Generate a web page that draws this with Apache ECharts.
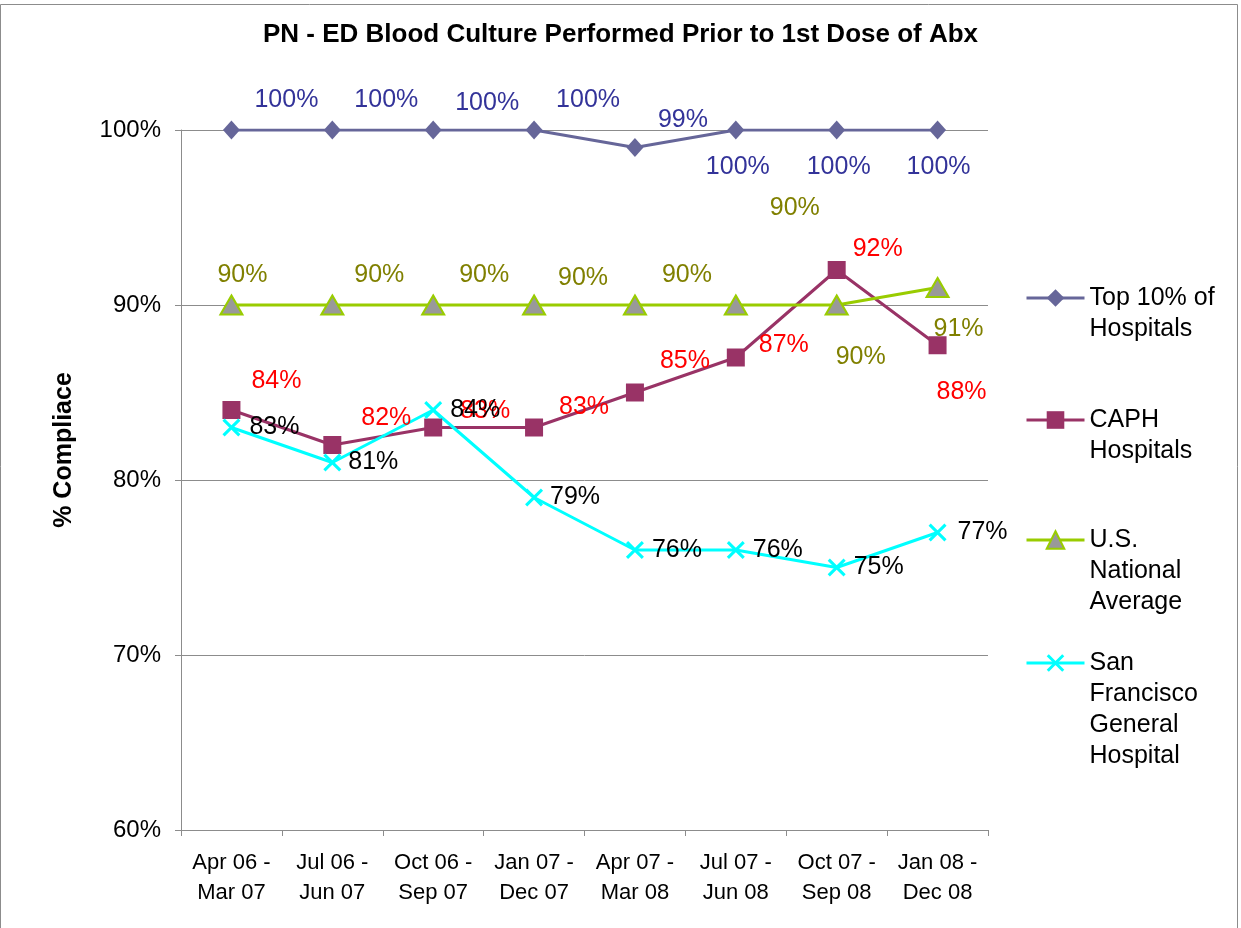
<!DOCTYPE html>
<html>
<head>
<meta charset="utf-8">
<title>PN - ED Blood Culture</title>
<script src="https://cdn.jsdelivr.net/npm/echarts@6/dist/echarts.min.js"></script>
<style>
html,body{margin:0;padding:0;background:#fff;}
#main{width:1241px;height:928px;}
</style>
</head>
<body>
<div id="main"></div>
<script>
// data
var categories = ['Apr 06 -\nMar 07','Jul 06 -\nJun 07','Oct 06 -\nSep 07','Jan 07 -\nDec 07',
                  'Apr 07 -\nMar 08','Jul 07 -\nJun 08','Oct 07 -\nSep 08','Jan 08 -\nDec 08'];
var seriesNames = ['Top 10% of Hospitals','CAPH Hospitals','U.S. National Average','San Francisco General Hospital'];
var legendLines = ['Top 10% of\nHospitals','CAPH\nHospitals','U.S.\nNational\nAverage','San\nFrancisco\nGeneral\nHospital'];
var top10 = [100,100,100,100,99,100,100,100];
var caph = [84,82,83,83,85,87,92,87.7];
var usNational = [90,90,90,90,90,90,90,91];
var sfgh = [83,81,84,79,76,76,75,77];
var yTicks = [60,70,80,90,100];

// label offsets (px from the marker centre), like the hand-placed excel labels
var offTop10 = [[55,-30],[54,-30],[54,-27],[54,-30],[48,-27],[2,37],[2,37],[1,37]];
var offCaph = [[45,-29],[54,-27],[52,-16],[50,-20],[50,-31],[48,-12],[41,-21],[24,47]];
var offUs = [[11,-30],[47,-30],[51,-30],[49,-27],[52,-30],[59,-97],[24,52],[21,42]];
var offSf = [[43,0],[41,0],[42,0],[41,0],[42,0],[42,0],[42,0],[45,0]];

var FONT = '"Liberation Sans", Arial, sans-serif';
var lineColors = ['#666699','#993366','#99cc00','#00ffff'];

function pts(values, offs, color){
    return values.map(function(v,i){
        return {
            value: v,
            label: {
                show: true,
                position: 'inside',
                offset: offs[i],
                color: color,
                fontSize: 25,
                fontFamily: FONT,
                formatter: Math.round(v) + '%'
            }
        };
    });
}

// one legend per series so the icon sits on the first text line
var LH = 31;
var legendIconY = [298,420,540,663];
var legends = seriesNames.map(function(name,i){
    var n = legendLines[i].split('\n').length;
    var pad = '';
    for (var k = 0; k < n-1; k++) pad += ' \n';
    return {
        show: true,
        orient: 'vertical',
        left: 1025,
        top: legendIconY[i] - (2*n-1)*LH/2,
        padding: 0,
        itemWidth: 58,
        itemHeight: 22,
        selectedMode: false,
        data: [{name: name, lineStyle: {width: 3, color: lineColors[i]}}],
        formatter: function(){ return pad + legendLines[i]; },
        textStyle: {fontSize: 25, fontFamily: FONT, color: '#000', lineHeight: LH}
    };
});

var xMark = 'path://M0,1.2L1.2,0L10,8.8L8.8,10Z M8.8,0L10,1.2L1.2,10L0,8.8Z';

var myChart = echarts.init(document.getElementById('main'));
var option = {
    backgroundColor: '#fff',
    animation: false,
    title: {
        text: 'PN - ED Blood Culture Performed Prior to 1st Dose of Abx',
        left: 'center',
        top: 17,
        textStyle: {fontSize: 26, fontWeight: 'bold', fontFamily: FONT, color: '#000'}
    },
    graphic: [{
        type: 'rect',
        shape: {x: 0.5, y: 4.5, width: 1237, height: 930},
        style: {fill: 'none', stroke: '#8c8c8c', lineWidth: 1},
        silent: true
    }],
    legend: legends,
    grid: {left: 181, right: 253, top: 130, bottom: 98},
    xAxis: {
        type: 'category',
        data: categories,
        boundaryGap: true,
        axisLine: {lineStyle: {color: '#8c8c8c', width: 1}},
        axisTick: {show: true, inside: false, length: 6, lineStyle: {color: '#8c8c8c'}},
        axisLabel: {fontSize: 22, fontFamily: FONT, color: '#000', lineHeight: 30, margin: 18, interval: 0}
    },
    yAxis: {
        type: 'value',
        min: yTicks[0],
        max: yTicks[yTicks.length-1],
        interval: 10,
        name: '% Compliace',
        nameLocation: 'middle',
        nameGap: 104,
        nameRotate: 90,
        nameTextStyle: {fontSize: 25, fontWeight: 'bold', fontFamily: FONT, color: '#000', padding: [0,0,0,60]},
        axisLine: {show: true, lineStyle: {color: '#8c8c8c', width: 1}},
        axisTick: {show: true, length: 6, lineStyle: {color: '#8c8c8c'}},
        splitLine: {show: true, lineStyle: {color: '#8c8c8c', width: 1}},
        axisLabel: {fontSize: 24, fontFamily: FONT, color: '#000', margin: 20, formatter: '{value}%'}
    },
    series: [
        {
            name: seriesNames[0], type: 'line', data: pts(top10, offTop10, '#333399'),
            symbol: 'diamond', symbolSize: [17,19],
            lineStyle: {color: lineColors[0], width: 3},
            itemStyle: {color: lineColors[0]}
        },
        {
            name: seriesNames[1], type: 'line', data: pts(caph, offCaph, '#ff0000'),
            symbol: 'rect', symbolSize: 18,
            lineStyle: {color: lineColors[1], width: 3},
            itemStyle: {color: lineColors[1]}
        },
        {
            name: seriesNames[2], type: 'line', data: pts(usNational, offUs, '#808000'),
            symbol: 'triangle', symbolSize: [22,19],
            lineStyle: {color: lineColors[2], width: 3},
            itemStyle: {color: '#999999', borderColor: lineColors[2], borderWidth: 2}
        },
        {
            name: seriesNames[3], type: 'line', data: pts(sfgh, offSf, '#000000'),
            symbol: xMark, symbolSize: 18,
            lineStyle: {color: lineColors[3], width: 3},
            itemStyle: {color: lineColors[3]}
        }
    ]
};
myChart.setOption(option);
</script>
</body>
</html>
